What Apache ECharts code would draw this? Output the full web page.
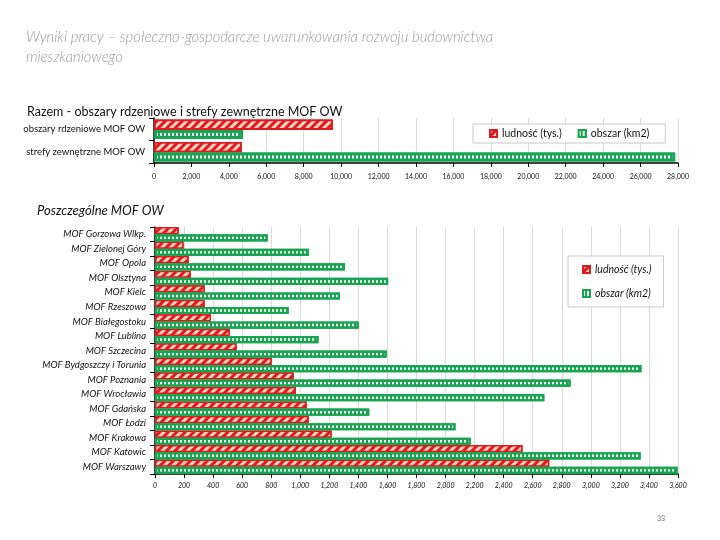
<!DOCTYPE html>
<html>
<head>
<meta charset="utf-8">
<script src="https://cdn.jsdelivr.net/npm/echarts@6/dist/echarts.min.js"></script>
<style>
html,body{margin:0;padding:0;background:#fff;}
#chart{width:720px;height:540px;}
</style>
</head>
<body>
<div id="chart"></div>
<script>
// ---- data ----
const titleText = 'Wyniki pracy – społeczno-gospodarcze uwarunkowania rozwoju budownictwa\nmieszkaniowego';
const topSubtitle = 'Razem - obszary rdzeniowe i strefy zewnętrzne MOF OW';
const bottomSubtitle = 'Poszczególne MOF OW';
const pageNumber = '33';
const seriesNames = ['ludność (tys.)', 'obszar (km2)'];

const topCategories = ['obszary rdzeniowe MOF OW', 'strefy zewnętrzne MOF OW'];
const topPopulation = [9560, 4690];
const topArea = [4760, 27850];

const mofCategories = ['MOF Gorzowa Wlkp.', 'MOF Zielonej Góry', 'MOF Opola', 'MOF Olsztyna', 'MOF Kielc',
  'MOF Rzeszowa', 'MOF Białegostoku', 'MOF Lublina', 'MOF Szczecina', 'MOF Bydgoszczy i Torunia',
  'MOF Poznania', 'MOF Wrocławia', 'MOF Gdańska', 'MOF Łodzi', 'MOF Krakowa', 'MOF Katowic', 'MOF Warszawy'];
const mofPopulation = [163, 197, 232, 248, 342, 342, 385, 514, 562, 803, 955, 970, 1044, 1058, 1216, 2530, 2714];
const mofArea = [776, 1058, 1308, 1605, 1273, 920, 1402, 1126, 1595, 3349, 2861, 2680, 1475, 2069, 2173, 3343, 3597];

const topTicks = {min: 0, max: 28000, interval: 2000};
const bottomTicks = {min: 0, max: 3600, interval: 200};

// ---- styles ----
const RED = '#e01b1d';
const PINK = '#fcd2c2';
const GREEN = '#18a552';
const FONT = 'Lato, "Liberation Sans", sans-serif';

const redDecal = {symbol: 'rect', symbolSize: 1, color: PINK, dashArrayX: [1, 0], dashArrayY: [2.5, 3], rotation: -Math.PI / 4};
const greenDecal = {symbol: 'rect', symbolSize: 1, color: '#ffffff', dashArrayX: [2, 2], dashArrayY: [1, 0], rotation: 0};

const fmt = v => v.toLocaleString('en-US');

const chart = echarts.init(document.getElementById('chart'), null, {renderer: 'canvas'});
chart.setOption({
  backgroundColor: '#ffffff',
  animation: false,
  aria: {enabled: true, decal: {show: true}},
  title: [
    {text: titleText, left: 21, top: 22, textStyle: {fontFamily: FONT, fontStyle: 'italic', fontWeight: 300, fontSize: 14.8, color: '#9a9a9a', lineHeight: 20}},
    {text: topSubtitle, left: 22, top: 100, textStyle: {fontFamily: FONT, fontWeight: 'normal', fontSize: 12.5, color: '#111'}},
    {text: bottomSubtitle, left: 32, top: 199, textStyle: {fontFamily: FONT, fontStyle: 'italic', fontWeight: 'normal', fontSize: 13, color: '#111'}},
    {text: pageNumber, left: 652, top: 510, textStyle: {fontFamily: FONT, fontWeight: 'normal', fontSize: 7, color: '#777'}}
  ],
  legend: [
    {
      data: seriesNames, left: 473, top: 124, orient: 'horizontal',
      padding: [4, 16, 4, 16], itemGap: 16, itemWidth: 7, itemHeight: 7, icon: 'rect',
      borderColor: '#c8c8c8', borderWidth: 1, backgroundColor: '#fff',
      textStyle: {fontFamily: FONT, fontSize: 10.5, color: '#111'}
    },
    {
      data: seriesNames, left: 568, top: 256, orient: 'vertical',
      padding: [8, 12, 8, 14], itemGap: 13, itemWidth: 7, itemHeight: 7, icon: 'rect',
      borderColor: '#c8c8c8', borderWidth: 1, backgroundColor: '#fff',
      textStyle: {fontFamily: FONT, fontSize: 10.5, fontStyle: 'italic', color: '#111'}
    }
  ],
  grid: [
    {left: 154, right: 42, top: 118, height: 45},
    {left: 155, right: 42, top: 227, height: 247}
  ],
  xAxis: [
    {
      type: 'value', gridIndex: 0, min: topTicks.min, max: topTicks.max, interval: topTicks.interval,
      axisLine: {show: true, lineStyle: {color: '#000', width: 1.5}},
      axisTick: {show: true, length: 4, lineStyle: {color: '#000'}},
      splitLine: {show: true, lineStyle: {color: '#d9d9d9'}},
      axisLabel: {formatter: fmt, fontFamily: FONT, fontSize: 7, color: '#111', margin: 10}
    },
    {
      type: 'value', gridIndex: 1, min: bottomTicks.min, max: bottomTicks.max, interval: bottomTicks.interval,
      axisLine: {show: true, lineStyle: {color: '#000', width: 1.5}},
      axisTick: {show: true, length: 4, lineStyle: {color: '#000'}},
      splitLine: {show: true, lineStyle: {color: '#d9d9d9'}},
      axisLabel: {formatter: fmt, fontFamily: FONT, fontSize: 7, fontStyle: 'italic', color: '#111', margin: 8}
    }
  ],
  yAxis: [
    {
      type: 'category', gridIndex: 0, data: topCategories, inverse: true,
      axisLine: {show: true, lineStyle: {color: '#000', width: 1.5}},
      axisTick: {show: true, length: 5, lineStyle: {color: '#000'}},
      axisLabel: {fontFamily: FONT, fontSize: 9.5, color: '#111', margin: 9}
    },
    {
      type: 'category', gridIndex: 1, data: mofCategories, inverse: true,
      axisLine: {show: true, lineStyle: {color: '#000', width: 1.5}},
      axisTick: {show: true, length: 5, lineStyle: {color: '#000'}},
      axisLabel: {fontFamily: FONT, fontSize: 9.5, fontStyle: 'italic', color: '#111', margin: 9}
    }
  ],
  series: [
    {
      name: seriesNames[0], type: 'bar', xAxisIndex: 0, yAxisIndex: 0, data: topPopulation,
      barWidth: 10.5,
      itemStyle: {color: RED, borderColor: RED, borderWidth: 1.8, decal: redDecal}
    },
    {
      name: seriesNames[1], type: 'bar', xAxisIndex: 0, yAxisIndex: 0, data: topArea,
      barWidth: 9, barGap: '2%',
      itemStyle: {color: GREEN, borderColor: GREEN, borderWidth: 3, decal: greenDecal}
    },
    {
      name: seriesNames[0], type: 'bar', xAxisIndex: 1, yAxisIndex: 1, data: mofPopulation,
      barWidth: 7.2,
      itemStyle: {color: RED, borderColor: RED, borderWidth: 1.5, decal: redDecal}
    },
    {
      name: seriesNames[1], type: 'bar', xAxisIndex: 1, yAxisIndex: 1, data: mofArea,
      barWidth: 7.2, barGap: '0%',
      itemStyle: {color: GREEN, borderColor: GREEN, borderWidth: 2.4, decal: greenDecal}
    }
  ]
});
</script>
</body>
</html>
